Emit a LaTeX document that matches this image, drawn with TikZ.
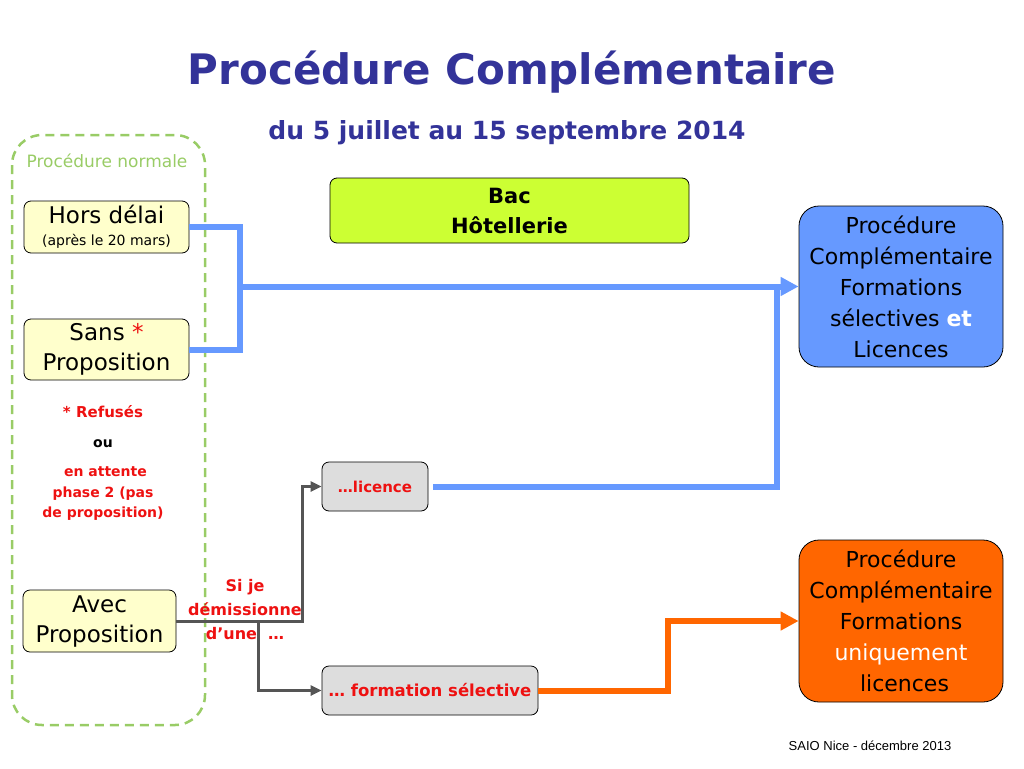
\documentclass[tikz,border=0pt]{standalone}
\usepackage{fontspec}
\setmainfont{DejaVu Sans}
\newfontfamily\piedfont{Liberation Sans}
\usepackage{xcolor}
\usetikzlibrary{arrows.meta, positioning}

\definecolor{titre}{HTML}{333399}
\definecolor{vert}{HTML}{99CC66}
\definecolor{jaune}{HTML}{FFFFCC}
\definecolor{lime}{HTML}{CCFF33}
\definecolor{bleu}{HTML}{6699FF}
\definecolor{orange}{HTML}{FF6600}
\definecolor{grisclair}{HTML}{DDDDDD}
\definecolor{grisfonce}{HTML}{555555}
\definecolor{rouge}{HTML}{EE1111}

\begin{document}
\begin{tikzpicture}[x=1pt, y=-1pt,
  cas/.style={rectangle, rounded corners=7pt, draw, thick, fill=jaune, align=center, inner sep=0pt, font=\fontsize{23}{30}\selectfont},
  choix/.style={rectangle, rounded corners=7pt, draw, thick, fill=grisclair, inner sep=0pt, text=rouge, font=\bfseries\fontsize{15}{18}\selectfont},
  issue/.style={rectangle, rounded corners=20pt, draw, thick, align=center, inner sep=0pt, minimum width=204pt, font=\fontsize{22}{31}\selectfont},
  lien/.style={line width=6pt, draw=bleu},
  fleche/.style={-{Triangle[length=18pt, width=18pt]}},
  note/.style={text=rouge, align=center, font=\bfseries\fontsize{14}{20.5}\selectfont}]

    \useasboundingbox (0,0) rectangle (1024,768);

    % titre
    \node[text=titre, font=\bfseries\fontsize{42}{50}\selectfont] (titre) at (512,72) {Procédure Complémentaire};
    \node[text=titre, font=\bfseries\fontsize{25}{30}\selectfont] (dates) at (507,133) {du 5 juillet au 15 septembre 2014};

    % procedure normale
    \draw[vert, line width=2.5pt, dash pattern=on 9pt off 6pt, rounded corners=30pt] (12,135) rectangle (205,725);
    \node[text=vert, font=\fontsize{17}{20}\selectfont] (normale) at (107,161) {Procédure normale};

    \node[cas, minimum width=165pt, minimum height=52pt] (hors) at (106.5,227) {Hors délai\\[-8pt]{\fontsize{14}{16}\selectfont (après le 20 mars)}};
    \node[cas, minimum width=165pt, minimum height=61pt] (sans) at (106.5,349.5) {Sans {\color{rouge}*}\\Proposition};
    \node[cas, minimum width=153pt, minimum height=62pt] (avec) at (99.5,621) {Avec\\Proposition};

    \node[note, font=\bfseries\fontsize{15}{18}\selectfont] (refus) at (103,412) {* Refusés};
    \node[font=\bfseries\fontsize{14}{16}\selectfont] (ou) at (103,444) {ou};
    \node[note] (attente) at (103,494) {\ en attente\\phase 2 (pas\\de proposition)};

    \node[rectangle, rounded corners=7pt, draw, thick, fill=lime, align=center, minimum width=359pt, minimum height=65pt, inner sep=0pt, font=\bfseries\fontsize{21}{30}\selectfont] (bac) at (509.5,210.5) {Bac\\Hôtellerie};

    % issues
    \node[issue, fill=bleu, minimum height=161pt] (compl) at (901,286.5) {Procédure\\Complémentaire\\Formations\\sélectives {\bfseries\color{white}et}\\Licences};
    \node[issue, fill=orange, minimum height=162pt] (lic) at (901,621) {Procédure\\Complémentaire\\Formations\\{\color{white}uniquement}\\\ licences};

    \node[choix, minimum width=106pt, minimum height=49pt] (licence) at (375,486.5) {…licence};
    \node[choix, minimum width=216pt, minimum height=49pt, font=\bfseries\fontsize{16.5}{18}\selectfont] (selective) at (430,690.5) {… formation sélective};

    \coordinate (j1) at (240,286.5);
    \coordinate (j2) at (777,286.5);
    \coordinate (d1) at (302,621);
    \coordinate (d2) at (258,621);
    \coordinate (o1) at (668,621);

    \draw[lien] (hors.east) -| (j1);
    \draw[lien] (sans.east) -| (j1);
    \draw[lien, fleche] (j1) -- (compl.west);
    \draw[lien, shorten <=5pt] (licence.east) -| (j2);

    \draw[grisfonce, line width=3pt, -{Triangle[length=11pt, width=10pt]}] (avec.east) -- (d1) |- (licence.west);
    \draw[grisfonce, line width=3pt, -{Triangle[length=11pt, width=10pt]}] (d2) |- (selective.west);

    \draw[orange, line width=6pt, fleche] (selective.east) -| (o1) -- (lic.west);

    \node[note, font=\bfseries\fontsize{16}{24}\selectfont] (demission) at (245,610) {Si je\\démissionne\\d’une \ …};

    \node[font=\piedfont\fontsize{13}{16}\selectfont] (pied) at (870,746) {SAIO Nice - décembre 2013};

\end{tikzpicture}
\end{document}
